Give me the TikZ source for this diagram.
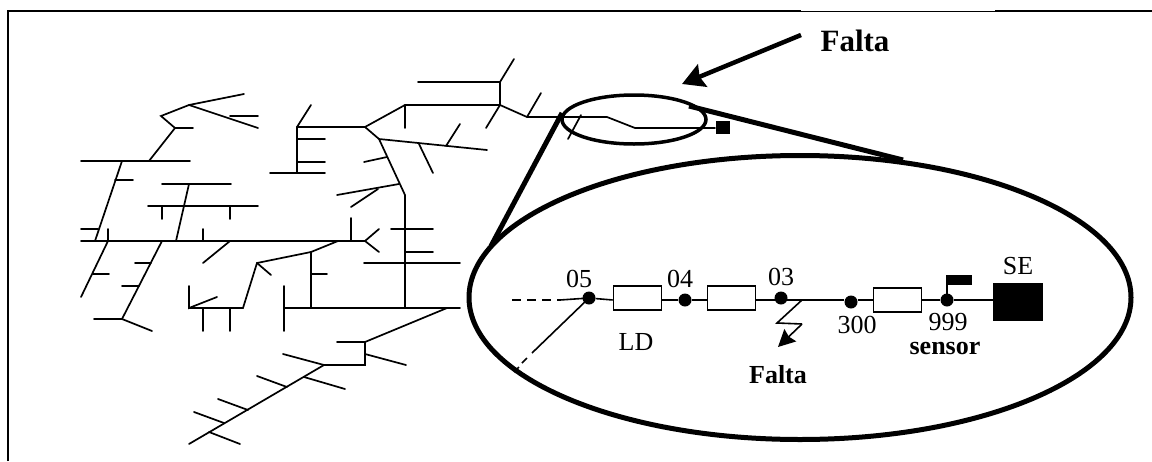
\documentclass[tikz,border=0pt]{standalone}
\usepackage{fontspec}
\setmainfont{Liberation Serif}
\usetikzlibrary{arrows.meta}
\tikzset{
  px/.style={x=1pt,y=-1pt},
  net/.style={line width=1.7pt,line cap=round,line join=miter},
  frameline/.style={line width=2.2pt},
  thick lens/.style={line width=5pt},
  bus/.style={circle,fill=black,inner sep=0pt,minimum size=13pt},
  load/.style={draw,line width=1.6pt,fill=white,minimum width=48pt,minimum height=24pt,inner sep=0pt},
  lbl/.style={inner sep=0pt,font=\fontsize{26}{28}\selectfont},
  blbl/.style={inner sep=0pt,font=\fontsize{26}{28}\selectfont\bfseries},
  wire/.style={line width=1.6pt}
}
\begin{document}
\begin{tikzpicture}[px]
\useasboundingbox (0,0) rectangle (1152,461);
% frame
\draw[frameline] (8,461) -- (8,11) -- (801,11);
\draw[line width=1pt] (801,11) -- (995,11);
\draw[frameline] (995,11) -- (1152,11);
% network: upper left
\draw[net] (244,94) -- (189,105) -- (161,116) -- (175,128) -- (149,161);
\draw[net] (189,105) -- (258,128);
\draw[net] (230,116) -- (258,116);
\draw[net] (175,128) -- (193,128);
\draw[net] (81,161) -- (190,161);
\draw[net] (122,161) -- (95,241);
\draw[net] (115,180) -- (133,180);
\draw[net] (162,184) -- (231,184);
\draw[net] (189,184) -- (176,241);
\draw[net] (148,206) -- (258,206);
\draw[net] (162,206) -- (162,219);
\draw[net] (230,206) -- (230,219);
\draw[net] (81,229) -- (98,229);
\draw[net] (108,229) -- (108,241);
\draw[net] (81,241) -- (365,241);
\draw[net] (203,229) -- (203,241);
\draw[net] (351,218) -- (351,241);
\draw[net] (379,229) -- (365,241) -- (379,252);
% below main
\draw[net] (108,241) -- (81,297);
\draw[net] (93,274) -- (109,274);
\draw[net] (162,241) -- (122,319);
\draw[net] (135,263) -- (151,263);
\draw[net] (122,286) -- (139,286);
\draw[net] (94,319) -- (122,319) -- (152,331);
\draw[net] (230,241) -- (203,263);
\draw[net] (338,241) -- (311,252) -- (257,263) -- (243,308) -- (189,308);
\draw[net] (257,263) -- (271,275);
\draw[net] (189,286) -- (189,308) -- (217,297);
\draw[net] (203,308) -- (203,331);
\draw[net] (230,308) -- (230,331);
\draw[net] (284,286) -- (284,331);
\draw[net] (284,308) -- (460,308);
\draw[net] (311,252) -- (311,308);
\draw[net] (311,274) -- (327,274);
% central trunk
\draw[net] (405,308) -- (405,195) -- (379,139) -- (365,127);
\draw[net] (364,263) -- (460,263);
\draw[net] (405,252) -- (433,252);
\draw[net] (391,229) -- (433,229);
\draw[net] (379,139) -- (487,150);
\draw[net] (419,144) -- (433,173);
\draw[net] (446,146) -- (460,124);
\draw[net] (387,157) -- (364,162);
\draw[net] (399,184) -- (337,195);
\draw[net] (378,189) -- (351,207);
% upper centre
\draw[net] (297,127) -- (297,173);
\draw[net] (297,127) -- (311,105);
\draw[net] (297,127) -- (365,127) -- (405,105) -- (500,105);
\draw[net] (297,139) -- (325,139);
\draw[net] (297,162) -- (325,162);
\draw[net] (270,173) -- (325,173);
\draw[net] (405,105) -- (405,128);
\draw[net] (500,105) -- (500,82);
\draw[net] (418,82) -- (500,82) -- (514,59);
\draw[net] (500,105) -- (486,128);
\draw[net] (500,105) -- (527,117) -- (607,117) -- (635,128) -- (715,128);
\draw[net] (527,117) -- (541,93);
\draw[net] (581,115) -- (568,139);
\fill (716,121) rectangle (730,134);
% lower branch
\draw[net] (447,308) -- (365,342) -- (337,342);
\draw[net] (365,342) -- (365,365) -- (324,365) -- (189,444);
\draw[net] (283,354) -- (324,365);
\draw[net] (365,354) -- (406,365);
\draw[net] (304,377) -- (345,389);
\draw[net] (257,376) -- (287,387);
\draw[net] (218,399) -- (248,410);
\draw[net] (194,412) -- (224,423);
\draw[net] (209,432) -- (240,444);
% lens
\draw[line width=3.5pt] (634,119.5) ellipse [x radius=72,y radius=24.5];
\draw[thick lens] (800,297.5) ellipse [x radius=331,y radius=142];
\draw[thick lens] (562,113) -- (491,246);
\draw[thick lens] (689,106) -- (903,160);
% top callout
\node[inner sep=0pt,font=\fontsize{31}{33}\selectfont\bfseries] (faltaTop) at (855,41) {Falta};
\coordinate (faltaTarget) at (682,84);
\coordinate (faltaTail) at (801,35);
\draw[line width=4.5pt,-{Stealth[length=22pt,width=24pt,inset=3pt]}] (faltaTail) -- (faltaTarget);
% inset circuit
\node[bus] (n05) at (589,298) {};
\node[load] (ld1) at (637.5,298) {};
\node[bus] (n04) at (685,300) {};
\node[load] (ld2) at (731.5,298) {};
\node[bus] (n03) at (781,298) {};
\node[bus] (n300) at (851,302) {};
\node[load] (ld3) at (897.5,300) {};
\node[bus] (n999) at (947,300) {};
\node[fill=black,minimum width=50pt,minimum height=38pt,inner sep=0pt] (se) at (1018,302) {};
\node[fill=black,minimum width=26pt,minimum height=10pt,inner sep=0pt] (flag) at (959,280) {};
\coordinate (dashEnd) at (512,300);
\coordinate (dashStop) at (560,300);
\coordinate (ob1) at (532,353);
\coordinate (ob2) at (527,358);
\coordinate (ob3) at (522,363);
\coordinate (ob4) at (519,367);
\coordinate (ob5) at (514,372);
\draw[wire,dash pattern=on 9pt off 6pt] (dashEnd) -- (dashStop);
\draw[wire] (dashStop) -- (n05.center);
\draw[wire] (n05.center) -- (ob1);
\draw[wire] (ob2) -- (ob3);
\draw[wire] (ob4) -- (ob5);
\draw[wire] (n05) -- (ld1.west |- n04);
\draw[wire] (ld1.east |- n04) -- (n04) -- (ld2.west |- n04);
\draw[wire] (ld2.east |- n04) -- (n03.south |- n04);
\draw[wire] (n03.center |- n04) -- (n300.west |- n04);
\draw[wire] (n300.east |- n999) -- (ld3.west);
\draw[wire] (ld3.east) -- (n999);
\draw[wire] (n999) -- (se.west |- n999);
\draw[wire] (n999.center) -- (n999.center |- flag.south);
% fault
\coordinate (z1) at (802,300);
\coordinate (z2) at (777,323);
\coordinate (z3) at (802,324);
\coordinate (z4) at (778,347);
\draw[wire] (z1) -- (z2) -- (z3);
\draw[wire,-{Stealth[length=17pt,width=17pt,inset=2pt]}] (z3) -- (z4);
% labels
\node[lbl] (l05) at (579,279) {05};
\node[lbl] (l04) at (680,279) {04};
\node[lbl] (l03) at (781,277) {03};
\node[lbl] (l300) at (857,325) {300};
\node[lbl] (l999) at (948,322) {999};
\node[lbl] (lSE) at (1018,266) {SE};
\node[lbl] (lLD) at (636,342) {LD};
\node[blbl] (lsensor) at (945,348) {sensor};
\node[blbl] (lfalta) at (778,375) {Falta};
\end{tikzpicture}
\end{document}
